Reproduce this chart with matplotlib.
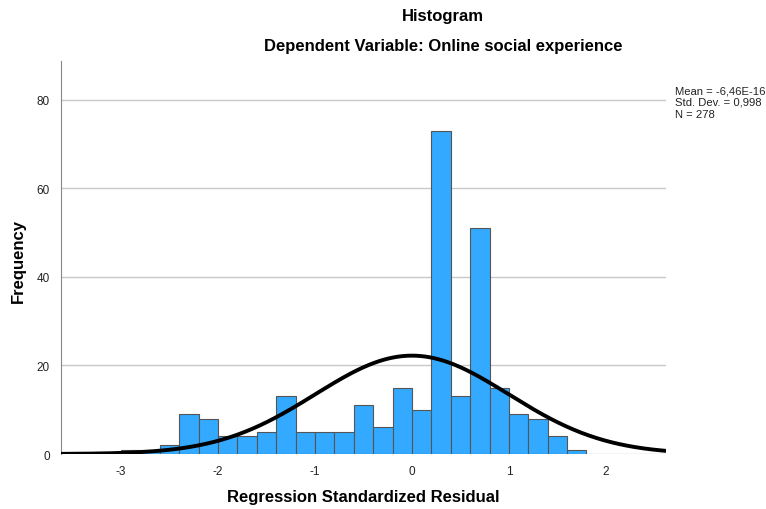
import numpy as np
import matplotlib
matplotlib.use('Agg')
import matplotlib.pyplot as plt

plt.rcParams['font.family'] = ['Liberation Sans', 'DejaVu Sans']

# bin edges (left) and frequencies, bin width 0.2
bin_left = [-3.0, -2.8, -2.6, -2.4, -2.2, -2.0, -1.8, -1.6, -1.4, -1.2, -1.0, -0.8,
            -0.6, -0.4, -0.2, 0.0, 0.2, 0.4, 0.6, 0.8, 1.0, 1.2, 1.4, 1.6]
freq = [1, 1, 2, 9, 8, 4, 4, 5, 13, 5, 5, 5,
        11, 6, 15, 10, 73, 13, 51, 15, 9, 8, 4, 1]
bin_width = 0.2
mean_val = -6.46e-16
std_val = 0.998
n_obs = 278
stats_lines = ['Mean = -6,46E-16', 'Std. Dev. = 0,998', 'N = 278']

fig = plt.figure(figsize=(7.66, 5.10), dpi=100)
ax = fig.add_axes([61 / 766, 1 - 455 / 510, (666 - 61) / 766, (455 - 62) / 510])

ax.bar(bin_left, freq, width=bin_width, align='edge', color='#33AAFF',
       edgecolor='#555555', linewidth=0.8, zorder=2)

# normal curve scaled to the histogram
xmin, xmax = -3.62, 2.62
xs = np.linspace(xmin, xmax, 400)
ys = n_obs * bin_width / (std_val * np.sqrt(2 * np.pi)) * np.exp(-0.5 * ((xs - mean_val) / std_val) ** 2)
ax.plot(xs, ys, color='black', linewidth=2.8, zorder=3)

ax.set_xlim(xmin, xmax)
ax.set_ylim(0, 88.8)
ax.set_xticks([-3, -2, -1, 0, 1, 2])
ax.set_xticklabels(['-3', '-2', '-1', '0', '1', '2'])
ax.set_yticks([0, 20, 40, 60, 80])
ax.yaxis.grid(True, color='#c8c8c8', linewidth=1)
ax.set_axisbelow(True)
ax.tick_params(axis='both', length=0, labelsize=8.5, colors='#222222', pad=8)
for s in ['top', 'right', 'bottom']:
    ax.spines[s].set_visible(False)
ax.spines['left'].set_color('#888888')

# axis titles
fig.text(363 / 766, 1 - 498 / 510, 'Regression Standardized Residual', ha='center', va='center',
         fontsize=12, fontweight='bold')
fig.text(18 / 766, 1 - 261 / 510, 'Frequency', ha='center', va='center', rotation=90,
         fontsize=12, fontweight='bold')

fig.text(443 / 766, 1 - 16 / 510, 'Histogram', ha='center', va='center', fontsize=12, fontweight='bold')
fig.text(443 / 766, 1 - 47 / 510, 'Dependent Variable: Online social experience', ha='center', va='center',
         fontsize=12, fontweight='bold')

for i, line in enumerate(stats_lines):
    fig.text(675 / 766, 1 - (91 + 12 * i) / 510, line, ha='left', va='center',
             fontsize=8.1, color='#222222')

fig.savefig('out.png', dpi=100)
